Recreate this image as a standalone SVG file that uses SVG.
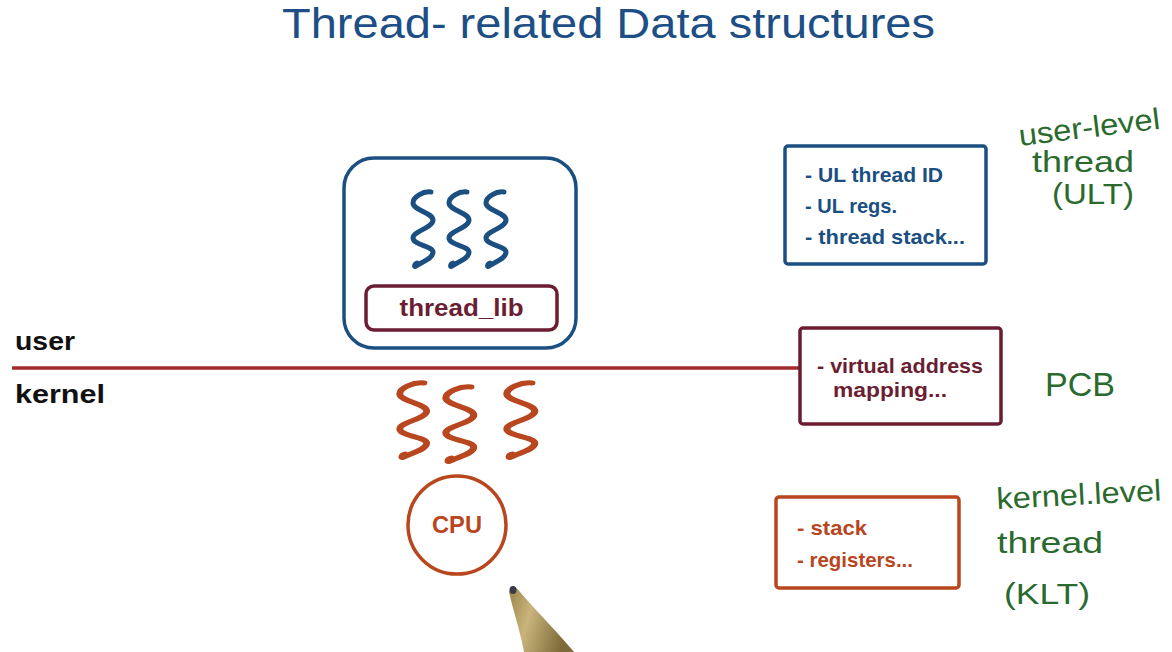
<svg xmlns="http://www.w3.org/2000/svg" width="1172" height="652" viewBox="0 0 1172 652">
<style>
.hand{font-family:"Liberation Sans","DejaVu Sans",sans-serif;font-weight:normal}
.title{fill:#1d4f86;font-size:42px}
.green{fill:#2a6a2e;font-size:30px}
.lbl{font-family:"Liberation Sans",Arial,sans-serif;font-weight:bold}
.blue{fill:#1b4f82}
.maroon{fill:#6b1d32}
.orange{fill:#b8461e}
.box{fill:#fff;stroke-width:3.5}
.sq{fill:none;stroke-width:5;stroke-linecap:round;stroke-linejoin:round}
</style>
<defs>
<path id="squiggle" d="M20,2 C12,1 2,7 2,13 C2,20 22,23 22,30 C22,38 2,41 2,48 C2,55 22,56 22,62 C22,69 10,72 5,76 C3,78 3,74 6,73"/>
<linearGradient id="penGrad" x1="0" y1="0" x2="1" y2="0.3">
<stop offset="0" stop-color="#9a8548"/>
<stop offset="0.4" stop-color="#c9b47c"/>
<stop offset="1" stop-color="#7d6a38"/>
</linearGradient>
</defs>
<rect width="1172" height="652" fill="#fff"/>

<text class="hand title" x="282" y="38" textLength="653" lengthAdjust="spacingAndGlyphs">Thread- related  Data  structures</text>

<g id="connectors">
<line x1="12" y1="368" x2="800" y2="368" stroke="#a12a2a" stroke-width="3.5"/>
</g>

<g id="user-label"><text class="lbl" x="15" y="350" font-size="26" fill="#111" textLength="60" lengthAdjust="spacingAndGlyphs">user</text></g>
<g id="kernel-label"><text class="lbl" x="15" y="403" font-size="26" fill="#111" textLength="90" lengthAdjust="spacingAndGlyphs">kernel</text></g>

<g id="process">
<rect x="344" y="158" width="232" height="190" rx="30" class="box" stroke="#1b4f82" stroke-width="4"/>
<g class="sq" stroke="#1b4f82">
<use href="#squiggle" transform="translate(411,190)"/>
<use href="#squiggle" transform="translate(447,190)"/>
<use href="#squiggle" transform="translate(484,190)"/>
</g>
</g>

<g id="thread_lib">
<rect x="366" y="286" width="191" height="44" rx="8" class="box" stroke="#6b1d32"/>
<text class="lbl maroon" x="461.5" y="316" font-size="23" text-anchor="middle" textLength="124" lengthAdjust="spacingAndGlyphs">thread_lib</text>
</g>

<g id="kernel-threads" class="sq" stroke="#b8461e">
<use href="#squiggle" transform="translate(397,381) scale(1.35,1)"/>
<use href="#squiggle" transform="translate(443,385) scale(1.4,1)"/>
<use href="#squiggle" transform="translate(504,381) scale(1.4,1)"/>
</g>

<g id="cpu">
<circle cx="457" cy="525" r="49" fill="#fff" stroke="#b8461e" stroke-width="3.5"/>
<text class="lbl orange" x="457" y="533" font-size="23" text-anchor="middle" textLength="50" lengthAdjust="spacingAndGlyphs">CPU</text>
</g>

<g id="ult-box">
<rect x="785" y="146" width="201" height="118" rx="3" class="box" stroke="#1b4f82"/>
<text class="lbl blue" font-size="21">
<tspan x="805" y="182" textLength="138" lengthAdjust="spacingAndGlyphs">- UL thread ID</tspan>
<tspan x="805" y="213" textLength="92" lengthAdjust="spacingAndGlyphs">- UL regs.</tspan>
<tspan x="805" y="244" textLength="160" lengthAdjust="spacingAndGlyphs">- thread stack...</tspan>
</text>
</g>

<g id="pcb-box">
<rect x="800" y="328" width="201" height="96" rx="3" class="box" stroke="#6b1d32"/>
<text class="lbl maroon" font-size="21">
<tspan x="817" y="373" textLength="166" lengthAdjust="spacingAndGlyphs">- virtual address</tspan>
<tspan x="833" y="397" textLength="114" lengthAdjust="spacingAndGlyphs">mapping...</tspan>
</text>
</g>

<g id="klt-box">
<rect x="776" y="497" width="183" height="91" rx="3" class="box" stroke="#b8461e"/>
<text class="lbl orange" font-size="21">
<tspan x="797" y="535" textLength="70" lengthAdjust="spacingAndGlyphs">- stack</tspan>
<tspan x="797" y="567" textLength="116" lengthAdjust="spacingAndGlyphs">- registers...</tspan>
</text>
</g>

<g id="ult-label" class="hand green">
<text x="1020" y="146" transform="rotate(-7 1020 146)" textLength="142" lengthAdjust="spacingAndGlyphs">user-level</text>
<text x="1032" y="172" textLength="102" lengthAdjust="spacingAndGlyphs">thread</text>
<text x="1052" y="204" textLength="82" lengthAdjust="spacingAndGlyphs">(ULT)</text>
</g>

<g id="pcb-label" class="hand green"><text x="1045" y="396" font-size="34" textLength="70" lengthAdjust="spacingAndGlyphs">PCB</text></g>

<g id="klt-label" class="hand green">
<text x="997" y="509" transform="rotate(-3 997 509)" textLength="165" lengthAdjust="spacingAndGlyphs">kernel.level</text>
<text x="997" y="553" textLength="106" lengthAdjust="spacingAndGlyphs">thread</text>
<text x="1004" y="604" textLength="86" lengthAdjust="spacingAndGlyphs">(KLT)</text>
</g>

<g id="pen">
<path d="M509,592 C512,586 516,586 520,592 C540,615 560,635 574,652 L524,652 C520,630 513,610 509,592 Z" fill="url(#penGrad)"/>
<ellipse cx="513" cy="590" rx="3.5" ry="4" fill="#3a3a4a"/>
</g>
</svg>
